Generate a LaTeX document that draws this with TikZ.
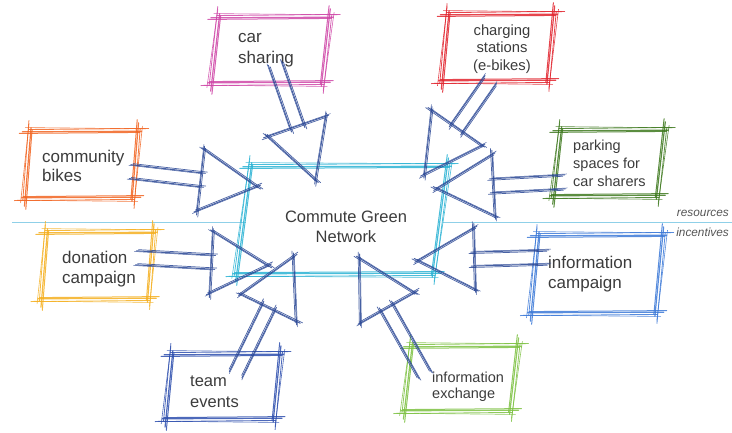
\documentclass[tikz,border=0pt]{standalone}
\usepackage{fontspec}
\setmainfont{Liberation Sans}
\usetikzlibrary{calc}
\definecolor{cMag}{HTML}{CF47A8}
\definecolor{cRed}{HTML}{E2252F}
\definecolor{cOra}{HTML}{F26522}
\definecolor{cDGr}{HTML}{3F7A1F}
\definecolor{cYel}{HTML}{F5B020}
\definecolor{cBlu}{HTML}{3D7AD8}
\definecolor{cNav}{HTML}{2E4FAE}
\definecolor{cLGr}{HTML}{7DC142}
\definecolor{cCya}{HTML}{2BB3D4}
\definecolor{cArr}{HTML}{2A4795}
\definecolor{cDiv}{HTML}{8FD0E8}
\definecolor{cTxt}{HTML}{3C3C3C}
\definecolor{cSub}{HTML}{555555}
\tikzset{
  boxnode/.style={rectangle,inner sep=0pt,draw=none},
  lbl/.style={text=cTxt,inner sep=0pt,align=left,anchor=base west},
  sub/.style={text=cSub,inner sep=0pt,font=\fontsize{11.8}{14}\selectfont\itshape},
  pen/.style={line cap=round,opacity=0.85},
  arr/.style={cArr,line cap=round,opacity=0.85},
  divline/.style={cDiv,line width=0.8pt}
}
% one stroke: opts, P, Q, offset at P, offset at Q, extension at P, extension at Q
\newcommand\stroke[7]{\draw[#1] ($($(#2)!-#6!(#3)$)!#4!90:(#3)$) -- ($($(#3)!-#7!(#2)$)!#5!-90:(#2)$);}
\newcommand\skline[3]{%
  \stroke{pen,#1,line width=1.2pt}{#2}{#3}{0pt}{0.6pt}{9pt}{4pt}
  \stroke{pen,#1,line width=0.8pt}{#2}{#3}{2.2pt}{3.4pt}{3pt}{11pt}
  \stroke{pen,#1,line width=1.0pt}{#2}{#3}{-1.6pt}{-0.6pt}{12pt}{2pt}
  \stroke{pen,#1,line width=0.6pt}{#2}{#3}{4.2pt}{3pt}{6pt}{8pt}
}
\newcommand\askline[2]{%
  \stroke{arr,line width=1.0pt}{#1}{#2}{0pt}{0.4pt}{3pt}{4pt}
  \stroke{arr,line width=0.7pt}{#1}{#2}{1.3pt}{1.8pt}{1pt}{6pt}
  \stroke{arr,line width=0.5pt}{#1}{#2}{-0.8pt}{-0.4pt}{5pt}{1pt}
}
\newcommand\skbox[3]{%
  \coordinate (#1-nw) at ($(#1.north west)+(#3,0)$);
  \coordinate (#1-ne) at ($(#1.north east)+(#3,0)$);
  \coordinate (#1-se) at ($(#1.south east)+(-#3,0)$);
  \coordinate (#1-sw) at ($(#1.south west)+(-#3,0)$);
  \skline{#2}{#1-nw}{#1-ne}
  \skline{#2}{#1-ne}{#1-se}
  \skline{#2}{#1-se}{#1-sw}
  \skline{#2}{#1-sw}{#1-nw}
}
\newcommand\barrow[2]{%
  \coordinate (#1-b) at ($(#2)!57pt!(#1)$);
  \coordinate (#1-hl) at ($(#1-b)!31pt!90:(#2)$);
  \coordinate (#1-hr) at ($(#1-b)!31pt!-90:(#2)$);
  \coordinate (#1-bl) at ($(#1-b)!7pt!90:(#2)$);
  \coordinate (#1-br) at ($(#1-b)!7pt!-90:(#2)$);
  \coordinate (#1-sl) at ($(#1)!7pt!90:(#2)$);
  \coordinate (#1-sr) at ($(#1)!7pt!-90:(#2)$);
  \askline{#1-sl}{#1-bl}
  \askline{#1-sr}{#1-br}
  \askline{#1-hl}{#1-hr}
  \askline{#1-hl}{#2}
  \askline{#1-hr}{#2}
}
\begin{document}
\begin{tikzpicture}[x=1pt,y=-1pt]
\useasboundingbox[fill=white] (0,0) rectangle (732,432);
% divider
\coordinate (dvL1) at (12,222.5);
\coordinate (dvL2) at (246,222.5);
\coordinate (dvR1) at (443,222.5);
\coordinate (dvR2) at (732,222.5);
\draw[divline] (dvL1) -- (dvL2);
\draw[divline] (dvR1) -- (dvR2);
\node[sub,anchor=base east] (res) at (729,216) {resources};
\node[sub,anchor=base east] (inc) at (729,236) {incentives};
% boxes
\node[boxnode,minimum width=195pt,minimum height=106pt] (cg) at (342,220) {};
\node[boxnode,minimum width=109pt,minimum height=64pt] (car) at (270.5,50) {};
\node[boxnode,minimum width=104pt,minimum height=65pt] (chg) at (498,47.5) {};
\node[boxnode,minimum width=106pt,minimum height=65pt] (com) at (81.5,164.5) {};
\node[boxnode,minimum width=102pt,minimum height=64pt] (prk) at (609,163) {};
\node[boxnode,minimum width=105pt,minimum height=65pt] (don) at (97.5,265.5) {};
\node[boxnode,minimum width=123pt,minimum height=76pt] (icp) at (597,274) {};
\node[boxnode,minimum width=106.5pt,minimum height=63pt] (tev) at (223,386.5) {};
\node[boxnode,minimum width=104.5pt,minimum height=63pt] (iex) at (461,378.5) {};
\skbox{cg}{cCya}{7.5}
\skbox{car}{cMag}{4}
\skbox{chg}{cRed}{3.5}
\skbox{com}{cOra}{3}
\skbox{prk}{cDGr}{4}
\skbox{don}{cYel}{3}
\skbox{icp}{cBlu}{4}
\skbox{tev}{cNav}{3.5}
\skbox{iex}{cLGr}{4}
% texts (anchor base = baseline of the last line)
\node[lbl,align=center,anchor=base,font=\fontsize{16.5}{20}\selectfont] (cg-t) at (346,242) {Commute Green\\Network};
\node[lbl,font=\fontsize{17}{21}\selectfont] (car-t) at (238,63) {car\\sharing};
\node[lbl,align=center,anchor=base,font=\fontsize{14.8}{17.5}\selectfont] (chg-t) at (502,70) {charging\\stations\\(e-bikes)};
\node[lbl,font=\fontsize{17}{19}\selectfont] (com-t) at (42,181) {community\\bikes};
\node[lbl,font=\fontsize{14.5}{18}\selectfont] (prk-t) at (573,186) {parking\\spaces for\\car sharers};
\node[lbl,font=\fontsize{17}{20}\selectfont] (don-t) at (62,283) {donation\\campaign};
\node[lbl,font=\fontsize{17}{20}\selectfont] (icp-t) at (548,288) {information\\campaign};
\node[lbl,font=\fontsize{16.5}{21}\selectfont] (tev-t) at (190,407) {team\\events};
\node[lbl,font=\fontsize{14.5}{16.5}\selectfont] (iex-t) at (432,398.5) {information\\exchange};
% arrows
\coordinate (a1) at (276,66);  \coordinate (a1t) at (315,180);
\coordinate (a2) at (489,82);  \coordinate (a2t) at (424,174);
\coordinate (a3) at (133,172); \coordinate (a3t) at (257,187);
\coordinate (a4) at (139,258); \coordinate (a4t) at (268,266);
\coordinate (a5) at (562,182); \coordinate (a5t) at (437,188);
\coordinate (a6) at (546,257); \coordinate (a6t) at (418,260);
\coordinate (a7) at (237,372); \coordinate (a7t) at (294,257);
\coordinate (a8) at (424,373); \coordinate (a8t) at (360,258);
\barrow{a1}{a1t}
\barrow{a2}{a2t}
\barrow{a3}{a3t}
\barrow{a4}{a4t}
\barrow{a5}{a5t}
\barrow{a6}{a6t}
\barrow{a7}{a7t}
\barrow{a8}{a8t}
\end{tikzpicture}
\end{document}
